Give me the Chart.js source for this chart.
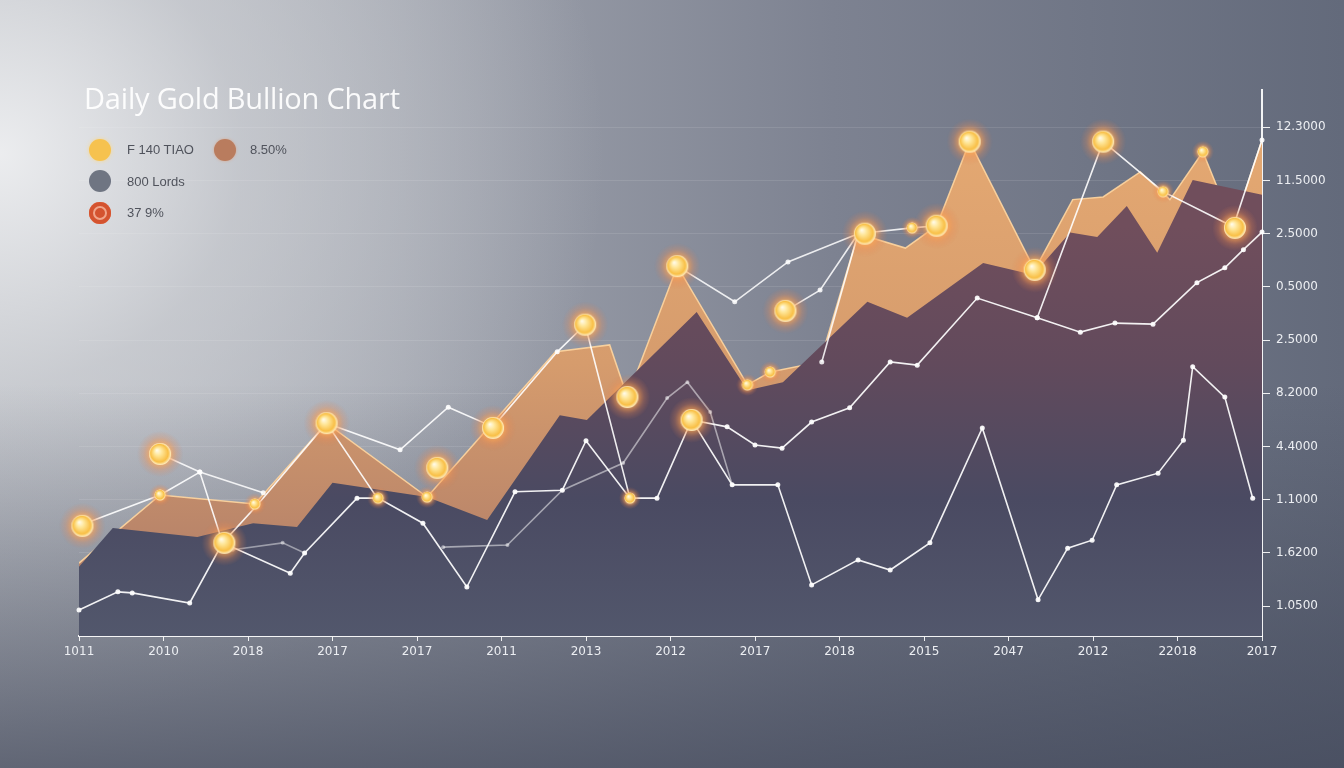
<!DOCTYPE html>
<html>
<head>
<meta charset="utf-8">
<script src="https://cdn.jsdelivr.net/npm/chart.js@4.4.1/dist/chart.umd.min.js"></script>
<style>
    html, body { margin: 0; padding: 0; }
    body {
        width: 1344px; height: 768px; overflow: hidden; position: relative;
        background:
            linear-gradient(to bottom, rgba(62,68,86,0) 50%, rgba(66,72,90,0.75) 100%),
            radial-gradient(ellipse 45% 75% at 0% 20%, rgba(238,239,241,0.95) 0%, rgba(212,214,218,0.6) 40%, rgba(180,184,192,0) 100%),
            linear-gradient(to right, #bcbfc5 0%, #a0a4ae 30%, #7d8291 62%, #636a7b 100%);
        font-family: "Open Sans", "Liberation Sans", sans-serif;
    }
    #chart { position: absolute; left: 0; top: 0; }
    .title { position: absolute; left: 84px; top: 78px; font-size: 29px; color: rgba(255,255,255,0.93); letter-spacing: -0.2px; }
    .leg { position: absolute; font-size: 13px; color: #50535c; font-family: "Liberation Sans", Arial, sans-serif; }
    .dot { position: absolute; width: 22px; height: 22px; border-radius: 50%; }
</style>
</head>
<body>
<canvas id="chart" width="1344" height="768"></canvas>
<div class="title">Daily Gold Bullion Chart</div>

<div class="dot" style="left:89px;top:139px;background:#f6c24f;box-shadow:0 0 4px #f8d890;"></div>
<div class="leg" style="left:127px;top:142px;">F 140 TIAO</div>
<div class="dot" style="left:214px;top:139px;background:#b97c5e;box-shadow:0 0 3px #d8a890;"></div>
<div class="leg" style="left:250px;top:142px;">8.50%</div>
<div class="dot" style="left:89px;top:170px;background:#6f7582;"></div>
<div class="leg" style="left:127px;top:174px;">800 Lords</div>
<div class="dot" style="left:89px;top:202px;background:#d4532f;box-shadow:inset 0 0 0 4px #d4532f, inset 0 0 0 6px #f0a58a;"></div>
<div class="leg" style="left:127px;top:205px;">37 9%</div>

<script>
// tick labels as printed in the picture
const xLabels = ['1011', '2010', '2018', '2017', '2017', '2011', '2013', '2012', '2017', '2018', '2015', '2047', '2012', '22018', '2017'];
const yTickVals = [0.56, 1.56, 2.56, 3.56, 4.56, 5.56, 6.56, 7.56, 8.56, 9.56];
const yLabels = ['1.0500', '1.6200', '1.1000', '4.4000', '8.2000', '2.5000', '0.5000', '2.5000', '11.5000', '12.3000'];

// orange (top) area
const goldX = [0, 0.96, 2.08, 2.93, 4.12, 5.64, 6.28, 6.49, 7.08, 7.91, 8.18, 8.77, 9.22, 9.78, 10.15, 10.54, 11.31, 11.76, 12.12, 12.56, 12.91, 13.3, 13.66, 14];
const goldY = [1.37, 2.65, 2.48, 4.0, 2.61, 5.34, 5.47, 4.49, 6.95, 4.72, 4.96, 5.15, 7.56, 7.29, 7.71, 9.29, 6.88, 8.2, 8.25, 8.72, 8.2, 9.1, 7.69, 9.32];

// mauve (middle) area
const mauveX = [0, 0.4, 1.4, 2.06, 2.58, 3.0, 4.12, 4.83, 5.69, 6.01, 7.31, 7.91, 8.33, 9.33, 9.8, 10.7, 11.29, 11.73, 12.05, 12.4, 12.76, 13.18, 14];
const mauveY = [1.3, 2.03, 1.86, 2.12, 2.05, 2.88, 2.61, 2.18, 4.15, 4.06, 6.09, 4.62, 4.77, 6.28, 5.98, 7.01, 6.79, 7.58, 7.5, 8.08, 7.2, 8.57, 8.29];

// white lines
const lowX = [0, 0.46, 0.63, 1.31, 1.70, 2.50, 2.67, 3.29, 3.54, 4.07, 4.59, 5.16, 5.72, 6.0, 6.52, 6.84, 7.25, 7.73, 8.27, 8.67, 9.22, 9.6, 10.07, 10.69, 11.35, 11.7, 11.99, 12.28, 12.77, 13.07, 13.18, 13.56, 13.89];
const lowY = [0.49, 0.83, 0.81, 0.62, 1.75, 1.18, 1.56, 2.59, 2.59, 2.12, 0.92, 2.71, 2.74, 3.67, 2.59, 2.59, 4.06, 2.84, 2.84, 0.96, 1.43, 1.24, 1.75, 3.91, 0.68, 1.65, 1.8, 2.84, 3.06, 3.68, 5.06, 4.49, 2.59];

const leftX = [0, 0.96, 1.43, 1.7, 2.11, 2.93, 3.53];
const leftY = [2.07, 2.65, 3.08, 1.75, 2.46, 4.0, 2.59];

const hiLeftX = [0.96, 1.43, 2.18];
const hiLeftY = [3.42, 3.08, 2.69];

const peakX = [2.93, 3.8, 4.37, 4.9, 5.66, 5.99, 6.52];
const peakY = [4.0, 3.5, 4.3, 3.93, 5.34, 5.85, 2.59];

const faintX = [4.31, 5.07, 5.72, 6.44, 6.96, 7.2, 7.47, 7.73];
const faintY = [1.67, 1.71, 2.74, 3.25, 4.47, 4.77, 4.21, 2.84];

const faint2X = [1.82, 2.41, 2.67];
const faint2Y = [1.62, 1.75, 1.56];

const midX = [7.25, 7.67, 8.0, 8.32, 8.67, 9.12, 9.6, 9.92, 10.63, 11.34, 11.85, 12.26, 12.71, 13.23, 13.56, 13.78, 14];
const midY = [4.06, 3.93, 3.59, 3.53, 4.02, 4.29, 5.15, 5.09, 6.35, 5.98, 5.71, 5.88, 5.86, 6.64, 6.92, 7.26, 7.59];

const rightX = [11.34, 12.12, 12.83, 13.66, 14];
const rightY = [5.98, 9.29, 8.35, 7.69, 9.32];

const topX = [7.08, 7.76, 8.39, 9.22, 9.86, 10.15];
const topY = [6.95, 6.28, 7.03, 7.56, 7.67, 7.71];

const crossX = [8.36, 8.77, 9.22, 8.79];
const crossY = [6.11, 6.5, 7.56, 5.15];

// glowing markers
const glowX = [0.04, 0.96, 1.72, 2.93, 4.24, 4.9, 5.99, 6.49, 7.08, 7.25, 8.36, 9.3, 10.15, 10.54, 11.31, 12.12, 13.68];
const glowY = [2.07, 3.42, 1.75, 4.0, 3.16, 3.91, 5.85, 4.49, 6.95, 4.06, 6.11, 7.56, 7.71, 9.29, 6.88, 9.29, 7.67];
const smallGlowX = [0.96, 2.08, 3.54, 4.12, 6.52, 7.91, 8.18, 9.86, 12.83, 13.3];
const smallGlowY = [2.65, 2.48, 2.59, 2.61, 2.59, 4.72, 4.96, 7.67, 8.35, 9.1];

const pts = (xs, ys) => xs.map((x, i) => ({ x: x, y: ys[i] }));

function vGrad(ctx, area, stops) {
    const g = ctx.createLinearGradient(0, area.top, 0, area.bottom);
    stops.forEach(s => g.addColorStop(s[0], s[1]));
    return g;
}

// glowing bead sprite used as point style
function makeGlow(size, core) {
    const c = document.createElement('canvas');
    c.width = size; c.height = size;
    const g = c.getContext('2d');
    const r = size / 2;
    const halo = g.createRadialGradient(r, r, 0, r, r, r);
    halo.addColorStop(0, 'rgba(255,200,120,0.9)');
    halo.addColorStop(core / r, 'rgba(255,165,80,0.65)');
    halo.addColorStop(Math.min(1, core / r + 0.25), 'rgba(240,140,80,0.25)');
    halo.addColorStop(1, 'rgba(230,130,80,0)');
    g.fillStyle = halo;
    g.fillRect(0, 0, size, size);
    const body = g.createRadialGradient(r - core * 0.3, r - core * 0.35, 0, r, r, core);
    body.addColorStop(0, '#fffdf0');
    body.addColorStop(0.35, '#ffe79a');
    body.addColorStop(0.8, '#f9bf45');
    body.addColorStop(1, '#fff0c8');
    g.beginPath();
    g.arc(r, r, core, 0, Math.PI * 2);
    g.fillStyle = body;
    g.fill();
    return c;
}
const bigGlow = makeGlow(46, 11);
const smallGlow = makeGlow(22, 5.5);

function whiteLine(xs, ys, alpha, radius) {
    return {
        type: 'line',
        data: pts(xs, ys),
        borderColor: `rgba(255,255,255,${alpha})`,
        borderWidth: 1.6,
        pointRadius: radius,
        pointBackgroundColor: `rgba(255,255,255,${alpha})`,
        pointBorderWidth: 0,
        fill: false,
        tension: 0,
        clip: false,
        order: 3
    };
}

new Chart(document.getElementById('chart'), {
    type: 'line',
    data: {
        datasets: [
            {
                data: pts(goldX, goldY),
                borderColor: 'rgba(255,214,160,0.9)',
                borderWidth: 1.5,
                pointRadius: 0,
                fill: 'origin',
                backgroundColor: (c) => c.chart.chartArea ? vGrad(c.chart.ctx, c.chart.chartArea, [[0, '#e7ab73'], [0.5, '#d69c6d'], [1, '#a97868']]) : '#d69c6d',
                tension: 0,
                order: 10
            },
            {
                data: pts(mauveX, mauveY),
                borderWidth: 0,
                pointRadius: 0,
                fill: 'origin',
                backgroundColor: (c) => c.chart.chartArea ? vGrad(c.chart.ctx, c.chart.chartArea, [[0.25, 'rgb(112,78,92)'], [0.5, 'rgb(98,74,92)'], [0.75, 'rgb(74,74,98)'], [1, 'rgb(82,87,108)']]) : '#5c4c60',
                tension: 0,
                order: 9
            },
            whiteLine(lowX, lowY, 0.92, 2.5),
            whiteLine(leftX, leftY, 0.9, 2.5),
            whiteLine(hiLeftX, hiLeftY, 0.85, 2.5),
            whiteLine(peakX, peakY, 0.9, 2.5),
            whiteLine(faintX, faintY, 0.5, 2),
            whiteLine(faint2X, faint2Y, 0.45, 2),
            whiteLine(midX, midY, 0.92, 2.5),
            whiteLine(rightX, rightY, 0.9, 2.5),
            whiteLine(topX, topY, 0.85, 2.5),
            whiteLine(crossX, crossY, 0.85, 2.5),
            {
                type: 'scatter',
                data: pts(smallGlowX, smallGlowY),
                pointRadius: 6,
                pointStyle: smallGlow,
                clip: false,
                order: 1
            },
            {
                type: 'scatter',
                data: pts(glowX, glowY),
                pointRadius: 11,
                pointStyle: bigGlow,
                clip: false,
                order: 0
            }
        ]
    },
    options: {
        responsive: false,
        animation: false,
        layout: { padding: { left: 79, top: 90, right: 0, bottom: 0 } },
        plugins: { legend: { display: false }, tooltip: { enabled: false } },
        scales: {
            x: {
                type: 'linear',
                min: 0,
                max: 14,
                afterFit: (s) => { s.height = 132; },
                grid: { drawOnChartArea: false, tickColor: 'rgba(255,255,255,0.9)', tickLength: 5 },
                border: { color: 'rgba(255,255,255,0.92)', width: 2 },
                ticks: {
                    stepSize: 1,
                    autoSkip: false,
                    maxRotation: 0,
                    padding: 4,
                    color: '#eceef2',
                    font: { size: 12, family: 'DejaVu Sans' },
                    callback: (v) => xLabels[v]
                }
            },
            y: {
                position: 'right',
                min: 0,
                max: 10.26,
                afterFit: (s) => { s.width = 82; },
                afterBuildTicks: (s) => { s.ticks = yTickVals.map(v => ({ value: v })); },
                grid: { color: 'rgba(255,255,255,0.1)', tickColor: 'rgba(255,255,255,0.9)', tickLength: 8 },
                border: { color: 'rgba(255,255,255,0.92)', width: 2 },
                ticks: {
                    padding: 6,
                    color: '#eceef2',
                    font: { size: 12, family: 'DejaVu Sans' },
                    callback: (v, i) => yLabels[i]
                }
            }
        }
    }
});
</script>
</body>
</html>
